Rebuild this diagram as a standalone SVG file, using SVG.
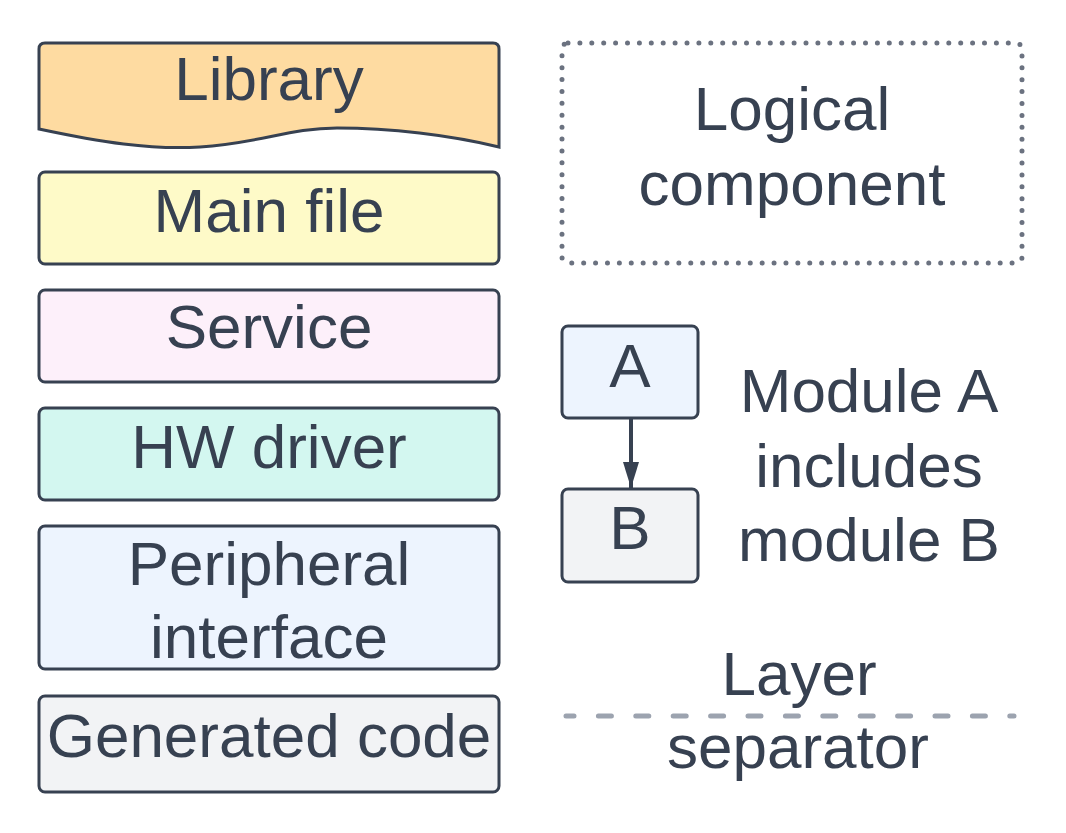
<svg xmlns="http://www.w3.org/2000/svg" width="1066" height="833" viewBox="0 0 1066 833">
<defs>
<style>
.box{stroke:#374151;stroke-width:3}
.t{font-family:"Liberation Sans",Arial,sans-serif;font-size:62px;fill:#374151;text-anchor:middle}
</style>
<marker id="ah" viewBox="0 0 26 16" refX="26" refY="8" markerWidth="26" markerHeight="16" markerUnits="userSpaceOnUse" orient="auto">
<path d="M0,0 L26,8 L0,16 Z" fill="#374151"/>
</marker>
</defs>
<rect width="1066" height="833" fill="#ffffff"/>
<g id="library">
<path class="box" fill="#fedba1" d="M39,129 L39,49 Q39,43 45,43 L493,43 Q499,43 499,49 L499,147 C450,135 390,128 337,128 C290,128 260,143 200,147 C150,150 100,142 39,129 Z"/>
<text class="t" x="269" y="100">Library</text>
</g>
<g id="main-file">
<rect class="box" fill="#fefac8" x="39" y="172" width="460" height="92" rx="6"/>
<text class="t" x="269" y="232">Main file</text>
</g>
<g id="service">
<rect class="box" fill="#fdf0fa" x="39" y="290" width="460" height="92" rx="6"/>
<text class="t" x="269" y="348">Service</text>
</g>
<g id="hw-driver">
<rect class="box" fill="#d3f7f0" x="39" y="408" width="460" height="92" rx="6"/>
<text class="t" x="269" y="468">HW driver</text>
</g>
<g id="peripheral-interface">
<rect class="box" fill="#edf4fe" x="39" y="526" width="460" height="143" rx="6"/>
<text class="t" x="269" y="585">Peripheral</text>
<text class="t" x="269" y="658">interface</text>
</g>
<g id="generated-code">
<rect class="box" fill="#f2f3f5" x="39" y="696" width="460" height="96" rx="6"/>
<text class="t" x="269" y="757">Generated code</text>
</g>
<g id="logical-component">
<rect x="562" y="43" width="460" height="220" rx="6" fill="none" stroke="#6b7280" stroke-width="5" stroke-linecap="round" stroke-dasharray="0 11.9"/>
<text class="t" x="792" y="130">Logical</text>
<text class="t" x="792" y="205">component</text>
</g>
<g id="module-a">
<rect class="box" fill="#edf4fe" x="562" y="326" width="136" height="92" rx="6"/>
<text class="t" x="630" y="387">A</text>
</g>
<g id="module-b">
<rect class="box" fill="#f2f3f5" x="562" y="489" width="136" height="93" rx="6"/>
<text class="t" x="630" y="549">B</text>
</g>
<g id="module-legend">
<text class="t" x="869" y="412">Module A</text>
<text class="t" x="869" y="487">includes</text>
<text class="t" x="869" y="561">module B</text>
</g>
<g id="layer-separator">
<text class="t" x="799" y="695">Layer</text>
<line x1="566" y1="716" x2="1014" y2="716" stroke="#9ca3af" stroke-width="5" stroke-linecap="round" stroke-dasharray="13 24.4" stroke-dashoffset="5"/>
<text class="t" x="798" y="768">separator</text>
</g>
<g id="connectors">
<line x1="631" y1="419" x2="631" y2="488" stroke="#374151" stroke-width="4" marker-end="url(#ah)"/>
</g>
</svg>
